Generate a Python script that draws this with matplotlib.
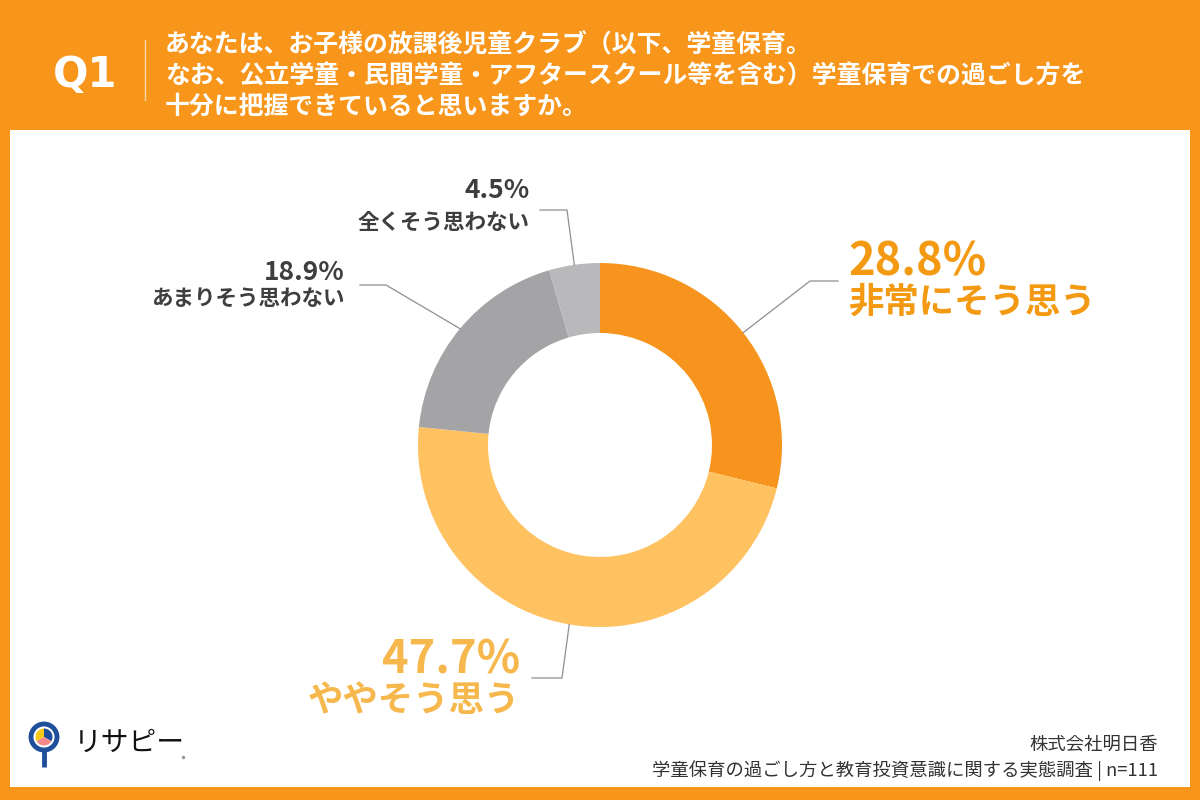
import numpy as np
import matplotlib.pyplot as plt
from matplotlib.patches import Rectangle, Circle, Wedge

plt.rcParams['font.family'] = ['Noto Sans CJK JP', 'DejaVu Sans']

# data
labels = ['非常にそう思う', 'ややそう思う', 'あまりそう思わない', '全くそう思わない']
values = [28.8, 47.7, 18.9, 4.5]
colors = ['#F7941D', '#FFC261', '#A4A3A6', '#B9B8BB']
text_colors = ['#F39A12', '#F6B84C', '#3E3E3E', '#3E3E3E']

question = ['あなたは、お子様の放課後児童クラブ（以下、学童保育。',
            'なお、公立学童・民間学童・アフタースクール等を含む）学童保育での過ごし方を',
            '十分に把握できていると思いますか。']
source = ['株式会社明日香', '学童保育の過ごし方と教育投資意識に関する実態調査 | n=111']

bg = '#F8951B'
W, H = 1200, 800

fig = plt.figure(figsize=(12, 8), dpi=100, facecolor=bg)
ax = fig.add_axes([0, 0, 1, 1])
ax.set_facecolor(bg)

# white panel
ax.add_patch(Rectangle((10, 13), 1180, 657, facecolor='white', edgecolor='none', zorder=0))

# header
ax.text(85, 725, 'Q1', color='white', fontsize=30, fontweight='bold', ha='center', va='center',
        family=['DejaVu Sans'])
ax.plot([145, 145], [700, 760], color='#FCD9A8', lw=1)
for i, line in enumerate(question):
    ax.text(165, 755 - i * 31, line, color='white', fontsize=17.9, fontweight='bold', va='center')

# donut
cx, cy, R, ring = 600, 355, 182, 70
ax.pie(values, colors=colors, startangle=90, counterclock=False, radius=R, center=(cx, cy),
       wedgeprops=dict(width=ring, edgecolor='none'))

# leader lines + labels
cum = np.cumsum([0] + values[:-1])
mids = 90 - 360 * (cum + np.array(values) / 2) / sum(values)
elbows = [(810, 519), (562, 122), (386, 515), (567, 590)]
ends = [(838, 519), (532, 122), (360, 515), (540, 590)]
num_pos = [(848, 538, 'left'), (520, 140, 'right'), (345, 528, 'right'), (530, 609, 'right')]
lab_pos = [(848, 498), (520, 100), (345, 502), (530, 578)]
big = [True, True, False, False]

for i in range(len(values)):
    a = np.deg2rad(mids[i])
    x0, y0 = cx + R * np.cos(a), cy + R * np.sin(a)
    ax.plot([x0, elbows[i][0], ends[i][0]], [y0, elbows[i][1], ends[i][1]],
            color='#8E8E93', lw=0.9, zorder=3)
    nx, ny, ha = num_pos[i]
    ax.text(nx, ny, f'{values[i]}%', color=text_colors[i], fontsize=32.5 if big[i] else 19,
            fontweight='bold', ha=ha, va='center')
    lx, ly = lab_pos[i]
    ax.text(lx, ly, labels[i], color=text_colors[i], fontsize=25.5 if big[i] else 15.5,
            fontweight='bold', ha=ha, va='center')

# logo
ax.add_patch(Circle((44, 63), 13, facecolor='white', edgecolor='#1F4E9A', lw=3.5, zorder=4))
ax.plot([44, 44], [50, 33], color='#1F4E9A', lw=3.5, solid_capstyle='butt', zorder=4)
ax.add_patch(Wedge((44, 63), 8.5, 90, 210, facecolor='#F7C918', edgecolor='none', zorder=5))
ax.add_patch(Wedge((44, 63), 8.5, -30, 90, facecolor='#1F4E9A', edgecolor='none', zorder=5))
ax.add_patch(Wedge((44, 63), 8.5, 210, 330, facecolor='#F48A8A', edgecolor='none', zorder=5))
ax.text(74, 57, 'リサピー', color='#111111', fontsize=20, va='center', ha='left')
ax.plot([183], [43], marker='o', ms=1.5, color='#999999')

# source
ax.text(1158, 55, source[0], color='#333333', fontsize=13.2, ha='right', va='center')
ax.text(1158, 29, source[1], color='#333333', fontsize=13.2, ha='right', va='center')

ax.set_xlim(0, W)
ax.set_ylim(0, H)
ax.set_aspect('auto')
ax.axis('off')

fig.savefig('out.png', dpi=100, facecolor=bg)
